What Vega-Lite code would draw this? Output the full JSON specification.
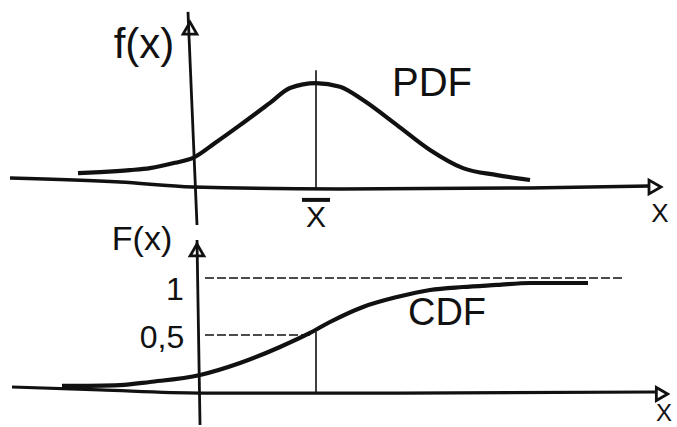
{
  "$schema": "https://vega.github.io/schema/vega-lite/v6.json",
  "background": "white",
  "padding": 0,
  "spacing": 0,
  "bounds": "flush",
  "config": {
    "view": {"stroke": null},
    "text": {"font": "Liberation Sans", "color": "#111"},
    "line": {"color": "#111"},
    "rule": {"color": "#111"}
  },
  "datasets": {
    "pdf": [
      {"x": -1.934, "y": 0.042}, {"x": -1.570, "y": 0.045}, {"x": -1.074, "y": 0.051},
      {"x": -0.744, "y": 0.057}, {"x": -0.331, "y": 0.073}, {"x": -0.033, "y": 0.088},
      {"x": 0.331, "y": 0.133}, {"x": 0.744, "y": 0.187}, {"x": 1.240, "y": 0.254},
      {"x": 1.570, "y": 0.299}, {"x": 2.000, "y": 0.314}, {"x": 2.397, "y": 0.303},
      {"x": 2.777, "y": 0.263}, {"x": 3.339, "y": 0.187}, {"x": 3.884, "y": 0.112},
      {"x": 4.430, "y": 0.057}, {"x": 4.992, "y": 0.036}, {"x": 5.537, "y": 0.021}
    ],
    "cdf": [
      {"x": -2.198, "y": 0.053}, {"x": -1.240, "y": 0.061}, {"x": -0.744, "y": 0.088},
      {"x": 0.083, "y": 0.149}, {"x": 0.744, "y": 0.254}, {"x": 1.405, "y": 0.395},
      {"x": 1.901, "y": 0.518}, {"x": 2.231, "y": 0.614}, {"x": 2.777, "y": 0.746},
      {"x": 3.339, "y": 0.833}, {"x": 3.884, "y": 0.895}, {"x": 4.430, "y": 0.921},
      {"x": 4.992, "y": 0.939}, {"x": 5.537, "y": 0.956}, {"x": 6.496, "y": 0.956}
    ],
    "xAxisTop": [
      {"x": -3.058, "y": 0.027}, {"x": -1.240, "y": 0.015}, {"x": -0.033, "y": 0.0},
      {"x": 2.397, "y": -0.006}, {"x": 5.537, "y": -0.003}, {"x": 7.521, "y": 0.003}
    ],
    "yAxisTop": [{"x": -0.116, "y": 0.529}, {"x": 0.033, "y": -0.115}],
    "xAxisBottom": [
      {"x": -3.025, "y": 0.044}, {"x": -1.570, "y": 0.018}, {"x": 0.083, "y": -0.009},
      {"x": 3.388, "y": -0.009}, {"x": 7.603, "y": 0.0}
    ],
    "yAxisBottom": [{"x": 0.033, "y": 1.333}, {"x": 0.083, "y": -0.29}]
  },
  "vconcat": [
    {
      "width": 677,
      "height": 228,
      "encoding": {
        "x": {"field": "x", "type": "quantitative", "scale": {"domain": [-3.2231, 7.9669], "nice": false, "zero": false}, "axis": null},
        "y": {"field": "y", "type": "quantitative", "scale": {"domain": [-0.1239, 0.565], "nice": false, "zero": false}, "axis": null}
      },
      "layer": [
        {"data": {"name": "xAxisTop"}, "mark": {"type": "line", "strokeWidth": 3.5, "interpolate": "monotone"}},
        {"data": {"name": "yAxisTop"}, "mark": {"type": "line", "strokeWidth": 2.8}},
        {"data": {"values": [{"x": 2.0, "y": 0.353, "y2": -0.009}]}, "mark": {"type": "rule", "strokeWidth": 1.6}, "encoding": {"y2": {"field": "y2"}}},
        {"data": {"name": "pdf"}, "mark": {"type": "line", "strokeWidth": 4.2, "interpolate": "monotone"}},
        {"data": {"values": [{"x": 7.603, "y": 0.0}]}, "mark": {"type": "point", "shape": "triangle-right", "size": 190, "filled": false, "stroke": "#111", "strokeWidth": 2.8, "opacity": 1}},
        {"data": {"values": [{"x": -0.083, "y": 0.48}]}, "mark": {"type": "point", "shape": "triangle-up", "size": 190, "filled": false, "stroke": "#111", "strokeWidth": 2.8, "opacity": 1}},
        {"data": {"values": [{"x": 1.769, "x2": 2.231, "y": -0.039}]}, "mark": {"type": "rule", "strokeWidth": 4}, "encoding": {"x2": {"field": "x2"}}},
        {"data": {"values": [{"x": -0.843, "y": 0.429, "t": "f(x)"}]}, "mark": {"type": "text", "fontSize": 42, "baseline": "middle", "align": "center"}, "encoding": {"text": {"field": "t"}}},
        {"data": {"values": [{"x": 3.917, "y": 0.310, "t": "PDF"}]}, "mark": {"type": "text", "fontSize": 40, "baseline": "middle", "align": "center"}, "encoding": {"text": {"field": "t"}}},
        {"data": {"values": [{"x": 2.0, "y": -0.094, "t": "X"}]}, "mark": {"type": "text", "fontSize": 30, "baseline": "middle", "align": "center"}, "encoding": {"text": {"field": "t"}}},
        {"data": {"values": [{"x": 7.686, "y": -0.082, "t": "X"}]}, "mark": {"type": "text", "fontSize": 26, "baseline": "middle", "align": "center"}, "encoding": {"text": {"field": "t"}}}
      ]
    },
    {
      "width": 677,
      "height": 199,
      "encoding": {
        "x": {"field": "x", "type": "quantitative", "scale": {"domain": [-3.2231, 7.9669], "nice": false, "zero": false}, "axis": null},
        "y": {"field": "y", "type": "quantitative", "scale": {"domain": [-0.307, 1.4386], "nice": false, "zero": false}, "axis": null}
      },
      "layer": [
        {"data": {"name": "xAxisBottom"}, "mark": {"type": "line", "strokeWidth": 3.2, "interpolate": "monotone"}},
        {"data": {"name": "yAxisBottom"}, "mark": {"type": "line", "strokeWidth": 2.8}},
        {"data": {"values": [{"x": 0.165, "x2": 7.107, "y": 1.0}]}, "mark": {"type": "rule", "strokeWidth": 1.6, "strokeDash": [9, 3]}, "encoding": {"x2": {"field": "x2"}}},
        {"data": {"values": [{"x": 0.165, "x2": 1.95, "y": 0.5}]}, "mark": {"type": "rule", "strokeWidth": 1.6, "strokeDash": [9, 3]}, "encoding": {"x2": {"field": "x2"}}},
        {"data": {"values": [{"x": 2.0, "y": 0.526, "y2": -0.009}]}, "mark": {"type": "rule", "strokeWidth": 1.6}, "encoding": {"y2": {"field": "y2"}}},
        {"data": {"name": "cdf"}, "mark": {"type": "line", "strokeWidth": 4.2, "interpolate": "monotone"}},
        {"data": {"values": [{"x": 7.719, "y": -0.018}]}, "mark": {"type": "point", "shape": "triangle-right", "size": 170, "filled": false, "stroke": "#111", "strokeWidth": 2.8, "opacity": 1}},
        {"data": {"values": [{"x": 0.033, "y": 1.246}]}, "mark": {"type": "point", "shape": "triangle-up", "size": 190, "filled": false, "stroke": "#111", "strokeWidth": 2.8, "opacity": 1}},
        {"data": {"values": [{"x": -0.876, "y": 1.333, "t": "F(x)"}]}, "mark": {"type": "text", "fontSize": 34, "baseline": "middle", "align": "center"}, "encoding": {"text": {"field": "t"}}},
        {"data": {"values": [{"x": -0.331, "y": 0.895, "t": "1"}, {"x": -0.545, "y": 0.474, "t": "0,5"}]}, "mark": {"type": "text", "fontSize": 32, "baseline": "middle", "align": "center"}, "encoding": {"text": {"field": "t"}}},
        {"data": {"values": [{"x": 4.165, "y": 0.684, "t": "CDF"}]}, "mark": {"type": "text", "fontSize": 38, "baseline": "middle", "align": "center"}, "encoding": {"text": {"field": "t"}}},
        {"data": {"values": [{"x": 7.75, "y": -0.19, "t": "X"}]}, "mark": {"type": "text", "fontSize": 24, "baseline": "middle", "align": "center"}, "encoding": {"text": {"field": "t"}}}
      ]
    }
  ]
}
